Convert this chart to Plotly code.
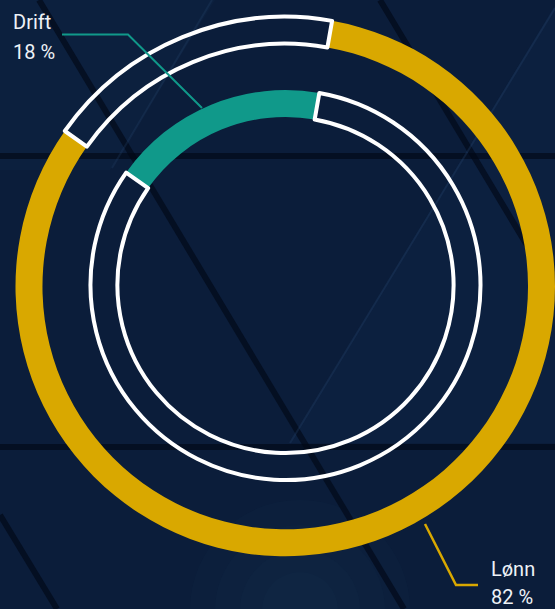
import plotly.graph_objects as go

# ---- data ----
outer_labels = ["Lønn", ""]
outer_values = [82, 18]
inner_labels = ["Drift", ""]
inner_values = [18, 82]
label_names = ["Drift", "Lønn"]
label_pcts = ["18 %", "82 %"]

W, H = 555, 609
BG = "#0b1d3a"
YELLOW = "#d9a800"
TEAL = "#10998a"
WHITE = "#ffffff"
CLEAR = "rgba(0,0,0,0)"

def px(x):
    return x / W

def py(y):
    return 1 - y / H

fig = go.Figure()

# outer ring (Lønn)
fig.add_trace(go.Pie(
    labels=outer_labels, values=outer_values, sort=False,
    direction="clockwise", rotation=10, hole=0.9,
    marker=dict(colors=[YELLOW, CLEAR],
                line=dict(color=[CLEAR, WHITE], width=[0, 4])),
    textinfo="none", hoverinfo="skip", showlegend=False,
    domain=dict(x=[px(15.5), 1.0], y=[py(286.5 + 269.75), py(286.5 - 269.75)]),
))

# inner ring (Drift) - drawn counterclockwise from the top
fig.add_trace(go.Pie(
    labels=inner_labels, values=inner_values, sort=False,
    direction="counterclockwise", rotation=10 - 360 * 0.18, hole=0.862,
    marker=dict(colors=[TEAL, CLEAR],
                line=dict(color=[CLEAR, WHITE], width=[0, 4])),
    textinfo="none", hoverinfo="skip", showlegend=False,
    domain=dict(x=[px(285.5 - 195), px(285.5 + 195)], y=[py(285 + 195), py(285 - 195)]),
))

shapes = []
def seg(x0, y0, x1, y1, color, width, layer="below"):
    return dict(type="line", xref="paper", yref="paper",
                x0=px(x0), y0=py(y0), x1=px(x1), y1=py(y1),
                line=dict(color=color, width=width), layer=layer)

# lighter background regions
shapes.append(dict(type="path", xref="paper", yref="paper", layer="below",
                   path=f"M {px(555)},{py(5)} L {px(290)},{py(443)} L {px(555)},{py(443)} Z",
                   fillcolor="rgba(20,45,80,0.22)", line=dict(width=0)))
shapes.append(dict(type="path", xref="paper", yref="paper", layer="below",
                   path=f"M {px(0)},{py(0)} L {px(215)},{py(0)} L {px(110)},{py(170)} L {px(0)},{py(170)} Z",
                   fillcolor="rgba(20,45,80,0.20)", line=dict(width=0)))
# soft glow at the bottom centre
for rr in (110, 85, 60, 38):
    shapes.append(dict(type="circle", xref="paper", yref="paper", layer="below",
                       x0=px(300 - rr), y0=py(610 + rr), x1=px(300 + rr), y1=py(610 - rr),
                       fillcolor="rgba(35,65,105,0.07)", line=dict(width=0)))

DARK = "rgba(2,8,22,0.65)"
shapes += [
    seg(0, 156, W, 156, DARK, 6),
    seg(0, 447, W, 447, DARK, 6),
    seg(39, 0, 404, 609, DARK, 6),
    seg(380, 0, 555, 292, DARK, 6),
    seg(0, 515, 57, 609, DARK, 6),
    seg(555, 8, 290, 443, "rgba(40,70,110,0.30)", 2),
    seg(212, 0, 112, 168, "rgba(40,70,110,0.25)", 2),
]

# leader lines
shapes += [
    dict(type="path", xref="paper", yref="paper", layer="above",
         path=f"M {px(62)},{py(34.5)} L {px(128)},{py(34.5)} L {px(202)},{py(108)}",
         line=dict(color=TEAL, width=2)),
    dict(type="path", xref="paper", yref="paper", layer="above",
         path=f"M {px(425)},{py(524)} L {px(456)},{py(585)} L {px(478)},{py(585)}",
         line=dict(color=YELLOW, width=2.5)),
]

TXT = "#eef2f7"
FONT = "Roboto"
ann = []
for name, pct, x, y1, y2 in [
    (label_names[0], label_pcts[0], 11, 22, 52),
    (label_names[1], label_pcts[1], 489, 569, 597),
]:
    ann.append(dict(text=name, x=px(x), y=py(y1), xref="paper", yref="paper",
                    xanchor="left", yanchor="middle", showarrow=False,
                    font=dict(family=FONT, size=20, color=TXT)))
    ann.append(dict(text=pct, x=px(x), y=py(y2), xref="paper", yref="paper",
                    xanchor="left", yanchor="middle", showarrow=False,
                    font=dict(family=FONT, size=20, color=TXT)))

fig.update_layout(
    width=W, height=H,
    margin=dict(l=0, r=0, t=0, b=0),
    paper_bgcolor=BG, plot_bgcolor=BG,
    shapes=shapes, annotations=ann,
    showlegend=False,
)

fig.write_html("out.html", config={"displayModeBar": False},
               post_script="document.body.style.margin='0';")
